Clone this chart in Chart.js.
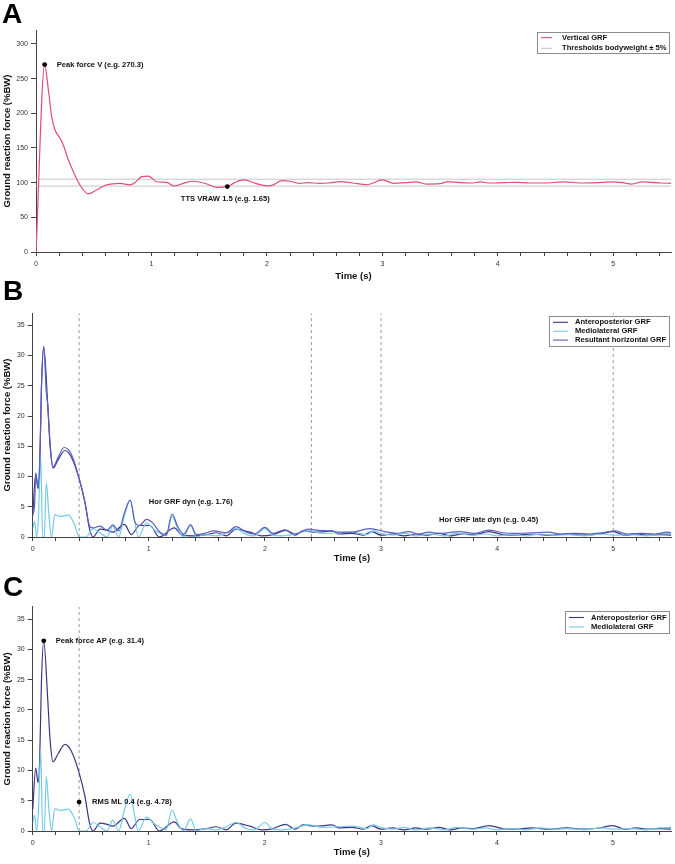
<!DOCTYPE html>
<html>
<head>
<meta charset="utf-8">
<script src="https://cdn.jsdelivr.net/npm/chart.js@4.4.1/dist/chart.umd.min.js"></script>
<style>
  body { margin: 0; background: #fff; }
  #wrap { position: relative; width: 675px; height: 864px; }
  canvas { position: absolute; left: 0; }
  .tag { position: absolute; font: bold 28px "Liberation Sans", Arial, sans-serif; line-height: 28px; color: #000; z-index: 2; }
</style>
</head>
<body>
<div id="wrap">
  <canvas id="cA" width="675" height="285" style="top:0px"></canvas>
  <canvas id="cB" width="675" height="285" style="top:285px"></canvas>
  <canvas id="cC" width="675" height="294" style="top:570px"></canvas>
  <div class="tag" style="left:2px;top:0px">A</div>
  <div class="tag" style="left:3px;top:277px">B</div>
  <div class="tag" style="left:3px;top:573px">C</div>
</div>
<script>
// tick labels
const yTicksA = [0, 50, 100, 150, 200, 250, 300];
const yTicksBC = [0, 5, 10, 15, 20, 25, 30, 35];
const xTicks = [];
for (let i = 0; i <= 27; i++) xTicks.push(Math.round(i * 2) / 10);

// panel A: vertical GRF (%BW)
const tV = [0, 0.075, 0.107, 0.136, 0.165, 0.208, 0.237, 0.28, 0.323, 0.38, 0.453, 0.525, 0.61, 0.727, 0.814, 0.857, 0.915, 0.973,
  1.045, 1.13, 1.2, 1.275, 1.36, 1.48, 1.56, 1.657, 1.72, 1.8, 1.9, 2.0, 2.05, 2.13, 2.2, 2.28, 2.36, 2.45, 2.53, 2.64, 2.74,
  2.87, 3.0, 3.1, 3.2, 3.29, 3.38, 3.5, 3.57, 3.67, 3.77, 3.85, 3.93, 4.05, 4.16, 4.28, 4.39, 4.57, 4.74, 4.86, 4.98, 5.08,
  5.16, 5.25, 5.33, 5.41, 5.5];
const vV = [0, 270.3, 234, 195, 176, 164, 154, 133, 116, 96.7, 83.7, 89.5, 96.7, 99, 96.7, 100, 108.7, 109.5,
  101.3, 100.4, 95.2, 99, 102, 98, 93.3, 94.3, 100, 104, 99, 95.5, 96.5, 103, 102, 99, 100, 99, 99.5, 101.5, 99.5,
  97, 104, 99, 100, 101, 98, 98.5, 101.5, 100, 99.5, 101, 99.5, 100, 100.5, 99.5, 99.5, 101, 99.5, 100, 101, 100,
  98, 101, 100.5, 99.5, 99];
const thresholds = [95, 105];
const peakV = [0.075, 270.3];
const ttsV = [1.657, 94.3];

// panels B and C: horizontal GRF (%BW)
const tAP = [0, 0.026, 0.046, 0.06, 0.075, 0.095, 0.13, 0.15, 0.175, 0.22, 0.278, 0.33, 0.4, 0.45, 0.49, 0.52, 0.58, 0.64,
  0.69, 0.79, 0.85, 0.92, 1.01, 1.09, 1.22, 1.28, 1.38, 1.5, 1.58, 1.67, 1.75, 1.87, 1.97, 2.07, 2.18, 2.26, 2.33, 2.44,
  2.58, 2.64, 2.75, 2.85, 2.92, 3.0, 3.1, 3.2, 3.3, 3.4, 3.5, 3.6, 3.7, 3.8, 3.93, 4.05, 4.15, 4.3, 4.45, 4.6, 4.75,
  4.88, 5.0, 5.1, 5.2, 5.3, 5.4, 5.5];
const vAP = [3.5, 10.4, 8, 11.7, 24.4, 31.4, 21.6, 15, 11.4, 12.8, 14.3, 13.3, 9.6, 5.7, 1.3, 0, 1.3, 1.1,
  0.8, 2.1, 0.4, 1.9, 1.9, 0, 1.5, 0.4, 0.2, 0.4, 0.7, 0.2, 1.3, 0.8, 0.2, 0.4, 1.1, 0.3, 1.0, 0.8,
  1.0, 0.5, 0.6, 0.3, 0.9, 0.3, 0.5, 0.2, 0.5, 0.3, 0.6, 0.2, 0.5, 0.4, 0.9, 0.4, 0.3, 0.5, 0.3, 0.5, 0.3,
  0.5, 0.9, 0.3, 0.5, 0.3, 0.4, 0.3];
const tML = [0, 0.017, 0.034, 0.05, 0.069, 0.086, 0.1, 0.117, 0.14, 0.163, 0.19, 0.235, 0.307, 0.36, 0.4, 0.46, 0.52, 0.58,
  0.64, 0.69, 0.74, 0.79, 0.84, 0.88, 0.91, 0.98, 1.04, 1.09, 1.15, 1.2, 1.25, 1.3, 1.36, 1.41, 1.48, 1.58, 1.67, 1.75,
  1.84, 1.91, 2.0, 2.07, 2.15, 2.24, 2.38, 2.5, 2.64, 2.75, 2.88, 2.93, 3.0, 3.1, 3.2, 3.3, 3.42, 3.55, 3.65, 3.78,
  3.9, 4.0, 4.12, 4.25, 4.38, 4.5, 4.62, 4.75, 4.9, 5.02, 5.15, 5.28, 5.4, 5.5];
const vML = [1.3, 2.6, 0, 3.5, 13.4, 0, 0, 9, 3.5, 0, 3.7, 3.4, 3.6, 2.1, 0, 0, 1.4, 0.7,
  0, 1.8, 0, 3.5, 6.1, 2.4, 0, 2.3, 1.3, 0.7, 0.2, 3.4, 1.3, 0, 2.0, 0, 0.4, 0.2, 0.7, 1.4,
  0.4, 0.2, 1.4, 0.3, 0.2, 0.4, 1.0, 0.6, 0.7, 0.8, 0.4, 1.0, 0.6, 0.3, 0.6, 0.2, 0.5, 0.2, 0.6, 0.3,
  0.5, 0.2, 0.4, 0.2, 0.5, 0.3, 0.4, 0.2, 0.5, 0.3, 0.4, 0.2, 0.5, 0.6];
const tRes = [0, 0.017, 0.026, 0.046, 0.06, 0.069, 0.075, 0.095, 0.117, 0.13, 0.15, 0.175, 0.22, 0.27, 0.33, 0.4, 0.45, 0.49,
  0.52, 0.58, 0.64, 0.69, 0.74, 0.79, 0.84, 0.88, 0.92, 0.98, 1.04, 1.09, 1.15, 1.2, 1.25, 1.3, 1.36, 1.41, 1.48, 1.56,
  1.67, 1.75, 1.84, 1.91, 2.0, 2.07, 2.17, 2.26, 2.38, 2.46, 2.55, 2.65, 2.75, 2.9, 3.03, 3.13, 3.24, 3.32, 3.41, 3.5,
  3.58, 3.67, 3.8, 3.93, 4.05, 4.15, 4.3, 4.44, 4.55, 4.67, 4.8, 4.9, 5.02, 5.12, 5.24, 5.35, 5.47, 5.5];
const vRes = [3.7, 5.5, 10.6, 8.2, 12, 18.5, 24.6, 31.5, 24, 21.8, 15.4, 11.6, 13.2, 14.8, 13.8, 9.7, 5.8, 1.8,
  1.5, 1.8, 1.1, 2.0, 1.0, 4.0, 6.1, 2.5, 1.9, 2.9, 2.2, 0.9, 0.3, 3.8, 1.7, 0.5, 2.0, 0.4, 0.6, 1.0,
  0.7, 1.7, 0.8, 0.5, 1.6, 0.6, 1.2, 0.5, 1.3, 1.1, 1.0, 0.8, 0.8, 1.4, 0.9, 0.6, 0.9, 0.5, 0.8, 0.6,
  0.7, 0.9, 0.6, 1.15, 0.7, 0.6, 0.7, 0.8, 0.5, 0.6, 0.5, 0.7, 1.0, 0.5, 0.6, 0.5, 0.8, 0.7];
const phaseLinesB = [0.4, 2.4, 3.0, 5.0];
const phaseLinesC = [0.4];
const peakAP = [0.095, 31.4];
const rmsML = [0.4, 4.78];

const FONT = '"Liberation Sans", Arial, sans-serif';
Chart.defaults.font.family = FONT;

const COL = {
  vert: '#e34d74',
  thr: '#c6c6c6',
  ap: '#3d3485',
  ml: '#74cbe9',
  res: '#5b5fc0',
  dash: '#9a9a9a'
};

function pts(t, v) {
  const n = Math.min(t.length, v.length);
  const out = [];
  for (let i = 0; i < n; i++) out.push({ x: t[i], y: v[i] });
  return out;
}

function curve(label, t, v, color, order, legend) {
  return {
    label: label, data: pts(t, v), borderColor: color, borderWidth: 1.2,
    pointRadius: 0, cubicInterpolationMode: 'monotone', fill: false, order: order, legend: legend
  };
}

function hLine(label, y, color, legend) {
  return {
    label: label, data: [{ x: 0, y: y }, { x: 5.5, y: y }], borderColor: color, borderWidth: 1,
    pointRadius: 0, order: 5, legend: legend
  };
}

function vLine(x, yMax) {
  return {
    data: [{ x: x, y: 0 }, { x: x, y: yMax }], borderColor: COL.dash, borderWidth: 1,
    borderDash: [3, 3], pointRadius: 0, order: 6
  };
}

function dot(p) {
  return {
    type: 'scatter', data: [{ x: p[0], y: p[1] }], pointRadius: 2.4, pointBackgroundColor: '#000',
    pointBorderWidth: 0, showLine: false, order: -1
  };
}

// legend box drawn inside the plot area
function boxLegend(box) {
  return {
    id: 'boxLegend',
    afterDraw(chart) {
      const ctx = chart.ctx;
      const items = chart.data.datasets.filter(d => d.legend);
      ctx.save();
      ctx.fillStyle = '#fff';
      ctx.fillRect(box.left, box.top, box.width, box.height);
      ctx.strokeStyle = '#8c8c8c';
      ctx.lineWidth = 1;
      ctx.strokeRect(box.left + 0.5, box.top + 0.5, box.width, box.height);
      ctx.font = 'bold 7.6px ' + FONT;
      ctx.textBaseline = 'middle';
      ctx.textAlign = 'left';
      items.forEach((d, i) => {
        const y = box.top + box.row0 + i * box.rowH;
        ctx.strokeStyle = d.borderColor;
        ctx.lineWidth = 1.1;
        ctx.beginPath();
        ctx.moveTo(box.left + box.s0, y);
        ctx.lineTo(box.left + box.s1, y);
        ctx.stroke();
        ctx.fillStyle = '#111';
        ctx.fillText(d.label, box.left + box.tx, y);
      });
      ctx.restore();
    }
  };
}

// text notes placed at data values
function notes(list) {
  return {
    id: 'notes',
    afterDatasetsDraw(chart) {
      const ctx = chart.ctx;
      const sx = chart.scales.x, sy = chart.scales.y;
      ctx.save();
      ctx.font = 'bold 7.6px ' + FONT;
      ctx.fillStyle = '#111';
      ctx.textBaseline = 'middle';
      list.forEach(n => {
        ctx.textAlign = n.align || 'left';
        ctx.fillText(n.text, sx.getPixelForValue(n.x) + (n.dx || 0), sy.getPixelForValue(n.y) + (n.dy || 0));
      });
      ctx.restore();
    }
  };
}

function scales(yMax, yTicks, yWidth, xTitlePad) {
  return {
    x: {
      type: 'linear', min: 0, max: 5.5,
      afterBuildTicks: s => { s.ticks = xTicks.map(v => ({ value: v })); },
      afterFit: s => { s.height = 33; },
      ticks: {
        autoSkip: false, maxRotation: 0, padding: 4, color: '#333', font: { size: 7 },
        callback: v => Math.abs(v - Math.round(v)) < 1e-6 ? String(Math.round(v)) : ''
      },
      grid: { drawOnChartArea: false, tickLength: 4, color: '#444' },
      border: { color: '#444', width: 1 },
      title: { display: true, text: 'Time (s)', color: '#111', font: { size: 9.5, weight: 'bold' }, padding: { top: 0, bottom: xTitlePad } }
    },
    y: {
      type: 'linear', min: 0, max: yMax,
      afterBuildTicks: s => { s.ticks = yTicks.map(v => ({ value: v })); },
      afterFit: s => { s.width = yWidth; },
      ticks: { padding: 3, color: '#333', font: { size: 7 } },
      grid: { drawOnChartArea: false, tickLength: 5, color: '#444' },
      border: { color: '#444', width: 1 },
      title: { display: true, text: 'Ground reaction force (%BW)', color: '#111', font: { size: 9.5, weight: 'bold' }, padding: { top: 2, bottom: 0 } }
    }
  };
}

function baseOptions(yMax, yTicks, yWidth, xTitlePad, top, right) {
  return {
    responsive: false,
    animation: false,
    events: [],
    layout: { padding: { left: 0, right: right, top: top, bottom: 0 } },
    plugins: { legend: { display: false }, tooltip: { enabled: false } },
    scales: scales(yMax, yTicks, yWidth, xTitlePad)
  };
}

// A
new Chart(document.getElementById('cA'), {
  type: 'line',
  data: {
    datasets: [
      curve('Vertical GRF', tV, vV, COL.vert, 1, true),
      hLine('Thresholds bodyweight \u00b1 5%', thresholds[0], COL.thr, true),
      hLine('', thresholds[1], COL.thr, false),
      dot(peakV),
      dot(ttsV)
    ]
  },
  options: baseOptions(320, yTicksA, 36, 3.3, 30.1, 3.7),
  plugins: [
    boxLegend({ left: 537, top: 32, width: 132, height: 21, row0: 5.6, rowH: 10.7, s0: 4, s1: 15, tx: 25 }),
    notes([
      { x: peakV[0], y: peakV[1], dx: 12, text: 'Peak force V (e.g. 270.3)' },
      { x: ttsV[0], y: ttsV[1], dx: -2, dy: 12.5, align: 'center', text: 'TTS VRAW 1.5 (e.g. 1.65)' }
    ])
  ]
});

// B
const dsB = [
  curve('Anteroposterior GRF', tAP, vAP, COL.ap, 3, true),
  curve('Mediolateral GRF', tML, vML, COL.ml, 2, true),
  curve('Resultant horizontal GRF', tRes, vRes, COL.res, 1, true)
];
phaseLinesB.forEach(x => dsB.push(vLine(x, 37)));
new Chart(document.getElementById('cB'), {
  type: 'line',
  data: { datasets: dsB },
  options: baseOptions(37, yTicksBC, 32.7, 6, 28.2, 3.7),
  plugins: [
    boxLegend({ left: 549, top: 31, width: 120, height: 30, row0: 6.3, rowH: 8.9, s0: 4, s1: 19, tx: 26 }),
    notes([
      { x: 1.0, y: 5.8, text: 'Hor GRF dyn (e.g. 1.76)' },
      { x: 3.5, y: 2.9, text: 'Hor GRF late dyn (e.g. 0.45)' }
    ])
  ]
});

// C
const dsC = [
  curve('Anteroposterior GRF', tAP, vAP, COL.ap, 2, true),
  curve('Mediolateral GRF', tML, vML, COL.ml, 1, true),
  dot(peakAP),
  dot(rmsML)
];
phaseLinesC.forEach(x => dsC.push(vLine(x, 37)));
new Chart(document.getElementById('cC'), {
  type: 'line',
  data: { datasets: dsC },
  options: baseOptions(37, yTicksBC, 32.7, 5.6, 36.9, 3.7),
  plugins: [
    boxLegend({ left: 565, top: 41, width: 104, height: 22, row0: 6.5, rowH: 9.5, s0: 4, s1: 19, tx: 26 }),
    notes([
      { x: peakAP[0], y: peakAP[1], dx: 12, text: 'Peak force AP (e.g. 31.4)' },
      { x: rmsML[0], y: rmsML[1], dx: 13, text: 'RMS ML 0.4 (e.g. 4.78)' }
    ])
  ]
});
</script>
</body>
</html>
